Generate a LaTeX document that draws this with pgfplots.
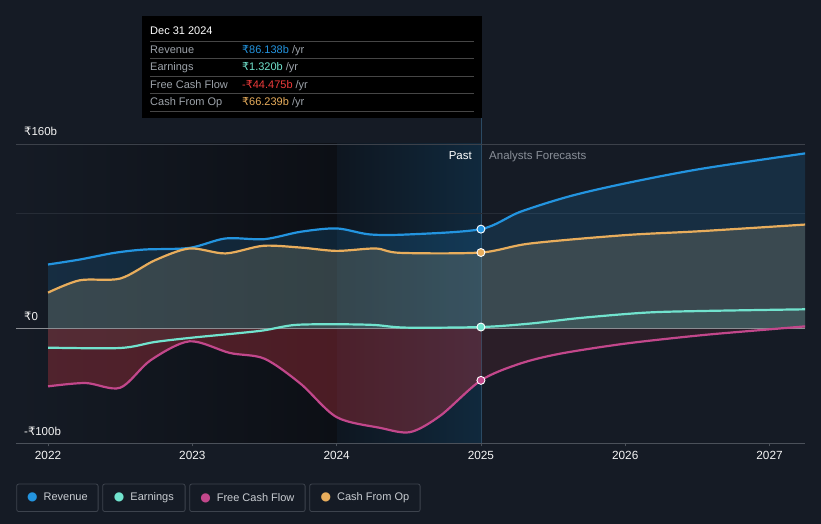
\documentclass[border=0pt]{standalone}
\usepackage{pgfplots}
\pgfplotsset{compat=1.18}
\usepackage{fontspec}
\setmainfont{Liberation Sans}
\newfontfamily\dejavu{DejaVu Sans}
\newcommand\R{{\dejavu\char"20B9}}
\definecolor{bgc}{HTML}{151B25}
\definecolor{darkc}{HTML}{0C0F15}
\definecolor{pastL}{HTML}{0E1620}
\definecolor{pastR}{HTML}{10293D}
\definecolor{gridA}{HTML}{3C414A}
\definecolor{gridB}{HTML}{262C36}
\definecolor{zeroc}{HTML}{8A8D92}
\definecolor{axisc}{HTML}{4B515A}
\definecolor{revc}{HTML}{2394DF}
\definecolor{earnc}{HTML}{71E3CE}
\definecolor{fcfc}{HTML}{C2478B}
\definecolor{fcffill}{HTML}{B3323E}
\definecolor{cfoc}{HTML}{E8AD5C}
\definecolor{cfofill}{HTML}{C8B88A}
\definecolor{legtext}{HTML}{C8CCD1}
\definecolor{tiplab}{HTML}{9DA3AA}
\definecolor{legbord}{HTML}{3D434D}
\definecolor{vline}{HTML}{2B4A63}
\definecolor{negred}{HTML}{EE3B3B}
\definecolor{forec}{HTML}{8A9099}
\begin{document}
\begin{tikzpicture}[x=1pt,y=1pt]
\useasboundingbox (0,0) rectangle (821,524);
\fill[bgc] (0,0) rectangle (821,524);
\shade[left color=bgc, right color=darkc] (16,80.5) rectangle (337,380);
\shade[left color=pastL, right color=pastR] (337,80.5) rectangle (481,380);
\draw[vline, line width=1pt] (481,406) -- (481,80.5);
\begin{axis}[
  at={(16pt,80.5pt)}, anchor=south west,
  scale only axis, width=789pt, height=299.5pt,
  xmin=2021.778, xmax=2027.246, ymin=-100, ymax=160,
  axis line style={draw=none},
  xtick={2022,2023,2024,2025,2026,2027},
  xticklabels={2022,2023,2024,2025,2026,2027},
  ytick=\empty,
  xtick pos=bottom, tick align=outside, major tick length=3pt,
  tick style={draw=axisc, line width=0.8pt},
  xticklabel style={font=\fontsize{11.8}{13}\selectfont, text=white!92!gray, yshift=-1.5pt},
  /pgf/number format/assume math mode=true,
]
\draw[gridB, line width=0.8pt] (axis cs:2021.778,100) -- (axis cs:2027.246,100);
\draw[gridA, line width=0.8pt] (axis cs:2021.778,160) -- (axis cs:2027.246,160);
% fills
\addplot[smooth, draw=none, fill=revc, fill opacity=0.16] coordinates {
(2022.00,55.4) (2022.22,59.7) (2022.46,65.5) (2022.67,68.4) (2022.98,69.8) (2023.23,78) (2023.5,77.4) (2023.75,83.8) (2024.0,86.7) (2024.23,81.5) (2024.5,81.5) (2025.0,86.1) (2025.27,101) (2025.62,114.8) (2026.0,125.8) (2026.52,138.3) (2027.25,151.9)} \closedcycle;
\addplot[smooth, draw=none, fill=cfofill, fill opacity=0.2] coordinates {
(2022.0,31) (2022.22,41.7) (2022.5,43.2) (2022.74,59) (2022.98,69.3) (2023.23,65) (2023.49,71.6) (2023.75,70.1) (2024.0,67.2) (2024.27,69.3) (2024.44,65.5) (2025.0,65.8) (2025.34,73.6) (2026.0,80.9) (2026.52,84.3) (2027.25,90.1)} \closedcycle;
\addplot[smooth, draw=none, fill=earnc, fill opacity=0.08] coordinates {
(2022.0,-16.8) (2022.5,-17.1) (2022.74,-11.9) (2023.0,-8.1) (2023.33,-4.1) (2023.5,-1.7) (2023.71,2.9) (2024.0,3.5) (2024.26,2.9) (2024.48,0.6) (2025.0,1.1) (2025.34,4.1) (2025.69,9) (2026.14,13.6) (2026.52,15) (2027.25,16.5)} \closedcycle;
\addplot[smooth, draw=none, fill=fcffill, fill opacity=0.38] coordinates {
(2022.0,-50.4) (2022.26,-47.5) (2022.5,-51.6) (2022.71,-27.8) (2022.98,-11.3) (2023.26,-21.4) (2023.5,-26.4) (2023.75,-48.1) (2024.0,-77.1) (2024.3,-86.4) (2024.51,-90.1) (2024.72,-75.7) (2025.0,-45.2)} \closedcycle;
\addplot[smooth, draw=none, fill=fcffill, fill opacity=0.14] coordinates {
(2025.0,-45.2) (2025.27,-30.7) (2025.55,-22) (2026.0,-13.3) (2026.52,-6.1) (2027.0,-0.9) (2027.25,1.7)} \closedcycle;
\draw[zeroc, line width=0.9pt] (axis cs:2021.778,0) -- (axis cs:2027.246,0);
\draw[axisc, line width=1pt] (axis cs:2021.778,-100) -- (axis cs:2027.246,-100);
% lines
\addplot[smooth, revc, line width=2.2pt] coordinates {
(2022.00,55.4) (2022.22,59.7) (2022.46,65.5) (2022.67,68.4) (2022.98,69.8) (2023.23,78) (2023.5,77.4) (2023.75,83.8) (2024.0,86.7) (2024.23,81.5) (2024.5,81.5) (2025.0,86.1) (2025.27,101) (2025.62,114.8) (2026.0,125.8) (2026.52,138.3) (2027.25,151.9)};
\addplot[smooth, cfoc, line width=2.2pt] coordinates {
(2022.0,31) (2022.22,41.7) (2022.5,43.2) (2022.74,59) (2022.98,69.3) (2023.23,65) (2023.49,71.6) (2023.75,70.1) (2024.0,67.2) (2024.27,69.3) (2024.44,65.5) (2025.0,65.8) (2025.34,73.6) (2026.0,80.9) (2026.52,84.3) (2027.25,90.1)};
\addplot[smooth, earnc, line width=2.2pt] coordinates {
(2022.0,-16.8) (2022.5,-17.1) (2022.74,-11.9) (2023.0,-8.1) (2023.33,-4.1) (2023.5,-1.7) (2023.71,2.9) (2024.0,3.5) (2024.26,2.9) (2024.48,0.6) (2025.0,1.1) (2025.34,4.1) (2025.69,9) (2026.14,13.6) (2026.52,15) (2027.25,16.5)};
\addplot[smooth, fcfc, line width=2.2pt] coordinates {
(2022.0,-50.4) (2022.26,-47.5) (2022.5,-51.6) (2022.71,-27.8) (2022.98,-11.3) (2023.26,-21.4) (2023.5,-26.4) (2023.75,-48.1) (2024.0,-77.1) (2024.3,-86.4) (2024.51,-90.1) (2024.72,-75.7) (2025.0,-45.2) (2025.27,-30.7) (2025.55,-22) (2026.0,-13.3) (2026.52,-6.1) (2027.0,-0.9) (2027.25,1.7)};
% markers
\addplot[only marks, mark=*, mark size=4pt, mark options={fill=revc, draw=white, line width=0.9pt}] coordinates {(2025.0,86.1)};
\addplot[only marks, mark=*, mark size=4pt, mark options={fill=cfoc, draw=white, line width=0.9pt}] coordinates {(2025.0,65.8)};
\addplot[only marks, mark=*, mark size=4pt, mark options={fill=earnc, draw=white, line width=0.9pt}] coordinates {(2025.0,1.1)};
\addplot[only marks, mark=*, mark size=4pt, mark options={fill=fcfc, draw=white, line width=0.9pt}] coordinates {(2025.0,-45.2)};
\end{axis}
% y labels
\begin{scope}[every node/.style={inner sep=0pt, anchor=base west, font=\fontsize{11.5}{13}\selectfont, text=white!90!gray}]
\node at (24,388) {\R160b};
\node at (24,203) {\R0};
\node at (24,88) {-\R100b};
\end{scope}
\node[inner sep=0pt, anchor=base east, font=\fontsize{11.5}{13}\selectfont, text=white] at (472,364) {Past};
\node[inner sep=0pt, anchor=base west, font=\fontsize{11.5}{13}\selectfont, text=forec] at (489,364) {Analysts Forecasts};
% tooltip
\fill[black] (142,406) rectangle (482,508);
\begin{scope}[draw=gray!55!black, line width=0.6pt]
\draw (150,483) -- (474,483);
\draw (150,465.7) -- (474,465.7);
\draw (150,448) -- (474,448);
\draw (150,430.7) -- (474,430.7);
\draw (150,412.3) -- (474,412.3);
\end{scope}
\begin{scope}[every node/.style={inner sep=0pt, anchor=base west, font=\fontsize{11}{12}\selectfont}]
\node[text=white] at (150,489.3) {Dec 31 2024};
\node[text=tiplab] at (150,470.5) {Revenue};
\node[text=tiplab] at (150,453) {Earnings};
\node[text=tiplab] at (150,435.5) {Free Cash Flow};
\node[text=tiplab] at (150,418) {Cash From Op};
\node at (242,470.5) {\textcolor{revc}{\R86.138b} \textcolor{tiplab}{/yr}};
\node at (242,453) {\textcolor{earnc}{\R1.320b} \textcolor{tiplab}{/yr}};
\node at (242,435.5) {\textcolor{negred}{-\R44.475b} \textcolor{tiplab}{/yr}};
\node at (242,418) {\textcolor{cfoc}{\R66.239b} \textcolor{tiplab}{/yr}};
\end{scope}
% legend
\begin{scope}[every node/.style={draw=legbord, line width=0.8pt, rounded corners=2pt, anchor=west, minimum height=27.5pt, inner xsep=0pt, font=\fontsize{11}{12}\selectfont, text=legtext}]
\node[minimum width=81.4pt] at (16.3,26.2) {{\dejavu\fontsize{12}{10}\selectfont\textcolor{revc}{●}}\hspace{6pt}Revenue};
\node[minimum width=82.4pt] at (102.3,26.2) {{\dejavu\fontsize{12}{10}\selectfont\textcolor{earnc}{●}}\hspace{6pt}Earnings};
\node[minimum width=115.4pt] at (189.3,26.2) {{\dejavu\fontsize{12}{10}\selectfont\textcolor{fcfc}{●}}\hspace{6pt}Free Cash Flow};
\node[minimum width=110.4pt] at (309.3,26.2) {{\dejavu\fontsize{12}{10}\selectfont\textcolor{cfoc}{●}}\hspace{6pt}Cash From Op};
\end{scope}
\end{tikzpicture}
\end{document}
